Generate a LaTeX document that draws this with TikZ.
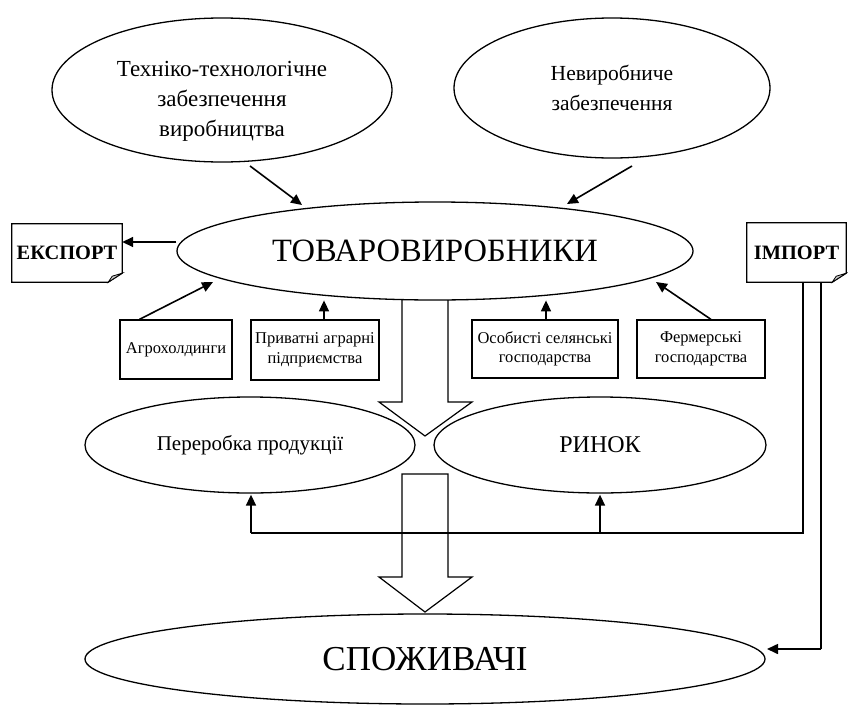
\documentclass[tikz,border=0pt]{standalone}
\usepackage{fontspec}
\setmainfont{Liberation Serif}
\usetikzlibrary{arrows.meta,shapes.geometric,calc}
\begin{document}
\begin{tikzpicture}[x=1pt,y=-1pt,
 ell/.style={draw,ellipse,line width=1.3pt,inner sep=0pt,align=center},
 sbox/.style={draw,rectangle,line width=1.2pt,inner sep=0pt,align=center,font=\fontsize{16.5}{19.5}\selectfont},
 fbox/.style={rectangle,inner sep=0pt,font=\bfseries\fontsize{20.4}{24}\selectfont},
 arr/.style={line width=1.6pt,-{Triangle[length=11pt,width=10pt]}},
 conn/.style={line width=1.5pt},
 blk/.style={line width=1.2pt,line join=miter},
 fold/.style={line width=1.2pt,line join=miter}]
\useasboundingbox (0,0) rectangle (848,704);

% top ellipses
\node[ell,minimum width=340pt,minimum height=144pt] (te) at (222,90) {};
\node[font=\fontsize{23}{30}\selectfont,align=center] (tet) at (222,101) {Техніко-технологічне\\забезпечення\\виробництва};
\node[ell,minimum width=316pt,minimum height=140pt,font=\fontsize{21.5}{30}\selectfont] (ne) at (612,88) {Невиробниче\\забезпечення};

% central ellipse
\node[ell,minimum width=516pt,minimum height=98pt,font=\fontsize{32.5}{36}\selectfont] (tv) at (435,251) {ТОВАРОВИРОБНИКИ};

% export / import
\node[fbox,minimum width=110pt,minimum height=58pt] (exp) at (67,253) {ЕКСПОРТ};
\node[fbox,minimum width=99pt,minimum height=59pt] (imp) at (796.5,252.5) {ІМПОРТ};
\draw[fold] (exp.south west) -- (exp.north west) -- (exp.north east) -- ($(exp.south east)+(0,-9)$) -- ($(exp.south east)+(-14,0)$) -- cycle;
\filldraw[fold,fill=gray!45,line width=0.8pt] ($(exp.south east)+(0,-9)$) -- ($(exp.south east)+(-10,-6)$) -- ($(exp.south east)+(-14,0)$) -- cycle;
\draw[fold] (imp.south west) -- (imp.north west) -- (imp.north east) -- ($(imp.south east)+(0,-9)$) -- ($(imp.south east)+(-14,0)$) -- cycle;
\filldraw[fold,fill=gray!45,line width=0.8pt] ($(imp.south east)+(0,-9)$) -- ($(imp.south east)+(-10,-6)$) -- ($(imp.south east)+(-14,0)$) -- cycle;

% small boxes
\node[sbox,minimum width=112pt,minimum height=59pt] (b1) at (176,349.5) {Агрохолдинги};
\node[sbox,minimum width=128pt,minimum height=60pt] (b2) at (315,350) {Приватні аграрні\\підприємства};
\node[sbox,minimum width=146pt,minimum height=58pt] (b3) at (545,349) {Особисті селянські\\господарства};
\node[sbox,minimum width=128pt,minimum height=58pt] (b4) at (701,349) {Фермерські\\господарства};

% lower ellipses
\node[ell,minimum width=330pt,minimum height=96pt,font=\fontsize{21}{24}\selectfont] (pp) at (250,445) {Переробка продукції};
\node[ell,minimum width=332pt,minimum height=96pt,font=\fontsize{24}{28}\selectfont] (rn) at (600,445) {РИНОК};
\node[ell,minimum width=680pt,minimum height=90pt,font=\fontsize{35}{40}\selectfont] (sp) at (425,659) {СПОЖИВАЧІ};

% arrows from top ellipses
\draw[arr] ($(te.center)+(28,76)$) -- ($(tv.center)+(-133,-46)$);
\draw[arr] ($(ne.center)+(20,78)$) -- ($(tv.center)+(132,-47)$);

% to export
\coordinate (ea) at ($(tv.west)+(0,-9)$);
\draw[arr] (ea) -- (ea -| exp.east);

% from small boxes
\draw[arr] ($(b1.north west)+(20,0)$) -- ($(tv.center)+(-222,31)$);
\draw[arr] ($(b2.north)+(9,0)$) -- ($(b2.north)+(9,-19)$);
\draw[arr] ($(b3.north)+(1,0)$) -- ($(b3.north)+(1,-19)$);
\draw[arr] ($(b4.north)+(10,0)$) -- ($(tv.center)+(221,31)$);

% block arrows
\draw[blk] (402,300) -- (402,402) -- (379,402) -- (425,436) -- (472,402) -- (448,402) -- (448,300);
\draw[blk] (402,474) -- (448,474) -- (448,577) -- (472,577) -- (425,612) -- (379,577) -- (402,577) -- cycle;

% import connections
\coordinate (i1) at ($(imp.south)+(6.5,0)$);
\coordinate (i2) at ($(imp.south)+(24.5,0)$);
\coordinate (hl) at (251,533);
\coordinate (hr) at (600,533);
\draw[conn] (i1) -- (i1 |- hl) -- (hl);
\draw[arr] (hl) -- ($(pp.south)+(1,1)$);
\draw[arr] (hr) -- ($(rn.south)+(0,1)$);
\coordinate (sc) at (767,649);
\draw[conn] (i2) -- (i2 |- sc);
\draw[arr] (i2 |- sc) -- (sc);
\end{tikzpicture}
\end{document}
